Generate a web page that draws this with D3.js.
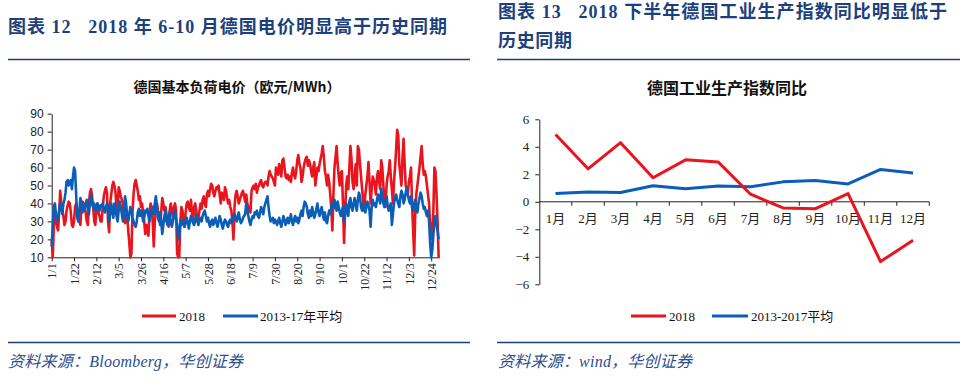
<!DOCTYPE html>
<html><head><meta charset="utf-8">
<script src="https://cdn.jsdelivr.net/npm/d3@7"></script>
<style>
body{margin:0;background:#fff;}
svg{display:block;}
</style></head>
<body>
<svg id="c" width="973" height="384"></svg>
<script>
// ---------- Left chart data (daily, 2018 vs 2013-17 average) ----------
const red2018 = [
 // Jan
 20,10,28,33,30,27,25,35,47,40,37,33,28,30,36,39,41,40,35,28,27,30,38,40,36,34,30,28,38,41,40,
 // Feb
 38,35,30,28,40,46,48,44,38,30,28,36,40,35,33,30,30,38,44,47,49,46,30,24,40,45,50,52,
 // Mar
 50,46,38,36,49,47,44,42,40,32,29,36,33,25,18,10,12,35,45,51,53,50,47,42,44,38,40,35,30,23,28,
 // Apr
 25,22,35,40,38,30,16,30,38,40,36,33,28,35,43,40,36,38,34,30,27,36,40,35,33,38,40,36,12,10,
 // May
 10,30,38,36,30,27,35,40,41,38,36,42,34,30,38,40,36,30,32,36,40,37,42,44,40,38,45,47,44,48,51,
 // Jun
 50,46,44,47,49,48,50,45,40,46,44,42,49,47,43,40,42,38,36,30,20,38,45,47,44,40,42,44,46,47,
 // Jul
 44,41,45,40,38,36,35,47,49,50,48,51,46,49,50,52,53,50,49,51,52,52,50,55,58,56,55,54,52,50,60,
 // Aug
 58,56,62,59,55,64,65,60,55,54,56,53,55,52,57,60,56,54,58,64,67,62,60,52,55,60,63,65,66,61,64,
 // Sep
 62,58,55,60,63,50,55,60,58,62,65,68,72,66,58,55,50,56,52,45,38,25,45,60,66,72,62,55,50,57,
 // Oct
 58,40,18,35,50,55,48,60,72,65,52,48,55,62,50,72,70,62,55,48,42,36,45,50,55,63,52,40,48,55,53,
 // Nov
 50,45,55,58,52,48,64,60,50,42,38,50,55,58,64,55,48,40,52,60,70,81,78,62,56,50,65,76,62,50,
 // Dec
 48,45,52,55,60,40,25,11,35,45,50,55,60,66,72,62,56,58,55,50,45,40,28,20,25,35,60,58,45,30,10
];
const avg1317 = [
 // Jan
 16,28,38,40,34,30,32,36,40,38,34,40,42,46,52,53,50,52,53,48,55,60,58,45,32,30,36,43,40,35,38,
 // Feb
 36,40,42,38,34,40,45,40,38,40,36,38,40,38,36,39,38,40,37,35,38,40,36,30,34,40,36,32,
 // Mar
 40,38,33,30,36,41,38,34,30,36,44,40,33,30,34,38,36,32,30,28,27,30,35,37,33,36,34,30,32,36,35,
 // Apr
 37,33,30,34,36,38,34,40,44,38,32,30,35,30,23,28,33,36,30,28,32,35,30,27,30,34,36,31,28,20,
 // May
 22,30,28,31,29,27,30,32,29,26,30,33,31,29,28,31,34,30,28,31,32,30,33,35,36,33,30,32,29,27,30,
 // Jun
 31,28,30,32,29,27,30,33,31,28,26,29,31,30,28,27,30,31,29,31,33,34,32,30,33,35,31,29,30,32,
 // Jul
 33,34,40,37,33,30,28,31,33,32,35,34,36,33,32,35,38,36,34,38,40,42,44,38,33,30,31,32,29,31,30,
 // Aug
 28,30,32,29,27,30,33,31,28,30,32,29,31,34,30,28,31,33,30,32,29,31,34,36,33,38,41,40,38,34,32,
 // Sep
 36,33,38,35,32,34,37,40,35,33,36,38,34,31,35,30,29,33,36,34,38,40,37,42,39,36,41,38,35,33,
 // Oct
 36,38,30,34,40,37,33,41,43,38,36,40,43,39,36,42,46,44,38,36,40,37,35,38,41,39,36,27,38,42,39,
 // Nov
 40,38,42,45,43,40,48,44,40,38,41,44,39,36,38,40,28,34,40,43,45,42,40,38,44,47,45,40,42,46,
 // Dec
 49,45,42,40,44,38,36,40,42,38,35,40,43,46,44,40,37,38,35,33,36,30,18,10,14,22,30,33,28,25,20
];
const dateTicks = ["1/1","1/22","2/12","3/5","3/26","4/16","5/7","5/28","6/18","7/9","7/30","8/20","9/10","10/1","10/22","11/12","12/3","12/24"];
const priceTicks = [10,20,30,40,50,60,70,80,90];

// ---------- Right chart data (monthly YoY) ----------
const months = ["1月","2月","3月","4月","5月","6月","7月","8月","9月","10月","11月","12月"];
const ip2018 = [4.9, 2.4, 4.3, 1.75, 3.05, 2.9, 0.55, -0.45, -0.5, 0.6, -4.35, -2.8];
const ipAvg = [0.6, 0.72, 0.67, 1.17, 0.95, 1.15, 1.1, 1.45, 1.55, 1.3, 2.35, 2.1];
const ipTicks = [-6,-4,-2,0,2,4,6];

const RED = "#E8141E", BLUE = "#0A5EB8", NAVY = "#1C3F7E";
const CJK = "'Liberation Serif','Noto Sans CJK SC',serif";
const svg = d3.select("#c");

// ---------- Headers ----------
function hdr(x, y, t, len){
  const e = svg.append("text").attr("x",x).attr("y",y).text(t)
    .attr("font-family",CJK).attr("font-weight","bold").attr("font-size",18).attr("fill",NAVY);
  if (len) e.attr("textLength",len).attr("lengthAdjust","spacing");
}
hdr(8, 33, "图表 12\u00a0\u00a0\u00a02018 年 6-10 月德国电价明显高于历史同期", 439);
hdr(498, 18, "图表 13\u00a0\u00a0\u00a02018 下半年德国工业生产指数同比明显低于", 449);
hdr(498, 47, "历史同期", 74);
[[8,470],[497,960]].forEach(([a,b])=>{
  svg.append("line").attr("x1",a).attr("x2",b).attr("y1",59.5).attr("y2",59.5).attr("stroke",NAVY).attr("stroke-width",1.5);
  svg.append("line").attr("x1",a).attr("x2",b).attr("y1",342.5).attr("y2",342.5).attr("stroke",NAVY).attr("stroke-width",1.5);
});
function src(x,t,len){
  svg.append("text").attr("x",x).attr("y",367).text(t)
    .attr("font-family","'Liberation Serif','Noto Sans CJK SC',serif").attr("font-style","italic")
    .attr("font-size",16).attr("fill","#2A4E8E").attr("textLength",len).attr("lengthAdjust","spacing");
}
src(8, "资料来源：Bloomberg，华创证券", 235);
src(498, "资料来源：wind，华创证券", 194);

// ---------- Left chart ----------
const L = svg.append("g");
L.append("text").attr("x",237).attr("y",92).attr("text-anchor","middle").text("德国基本负荷电价（欧元/MWh）")
  .attr("font-family","'Noto Sans CJK SC',sans-serif").attr("font-weight","bold").attr("font-size",14).attr("fill","#111");
const lx = d3.scaleLinear().domain([0,365]).range([51.7,439.7]);
const ly = d3.scaleLinear().domain([10,90]).range([257.3,113.7]);
const lyAxis = L.append("g").attr("transform","translate(51.7,0)")
  .call(d3.axisLeft(ly).tickValues(priceTicks).tickSize(4).tickSizeOuter(0));
lyAxis.selectAll("text").attr("font-family","'Liberation Sans',sans-serif").attr("font-size",12).attr("fill","#222").attr("dx","-1");
const dayIdx = dateTicks.map((_,i)=>i*21);
const lxAxis = L.append("g").attr("transform","translate(0,257.3)")
  .call(d3.axisBottom(lx).tickValues(dayIdx).tickFormat((d,i)=>dateTicks[i]).tickSize(4).tickSizeOuter(0));
lxAxis.selectAll("text").attr("transform","rotate(-90)").attr("text-anchor","end")
  .attr("x",-6).attr("y",0).attr("dy","0.35em")
  .attr("font-family","'Liberation Serif',serif").attr("font-size",12).attr("fill","#222");
[lyAxis,lxAxis].forEach(a=>{a.selectAll("path,line").attr("stroke","#222");});
const lline = d3.line().x((d,i)=>lx(i)).y(d=>ly(d)).curve(d3.curveLinear);
L.append("path").datum(red2018).attr("d",lline).attr("fill","none").attr("stroke",RED).attr("stroke-width",2.6).attr("stroke-linejoin","round");
L.append("path").datum(avg1317).attr("d",lline).attr("fill","none").attr("stroke",BLUE).attr("stroke-width",2.6).attr("stroke-linejoin","round");
function legend(g, x1, x2, tx, color, t){
  g.append("line").attr("x1",x1).attr("x2",x2).attr("y1",316).attr("y2",316).attr("stroke",color).attr("stroke-width",3);
  g.append("text").attr("x",tx).attr("y",320.5).text(t).attr("font-family",CJK).attr("font-size",13).attr("fill","#111");
}
legend(L,142,176,179,RED,"2018");
legend(L,223,258,260,BLUE,"2013-17年平均");

// ---------- Right chart ----------
const R = svg.append("g");
R.append("text").attr("x",727).attr("y",94).attr("text-anchor","middle").text("德国工业生产指数同比")
  .attr("font-family","'Noto Sans CJK SC',sans-serif").attr("font-weight","bold").attr("font-size",16).attr("fill","#111");
const rx = d3.scaleBand().domain(months).range([539.3,929.3]);
const ry = d3.scaleLinear().domain([-6,6]).range([284.3,119.3]);
const ryAxis = R.append("g").attr("transform","translate(539.3,0)")
  .call(d3.axisLeft(ry).tickValues(ipTicks).tickSize(4).tickSizeOuter(0));
ryAxis.selectAll("text").attr("font-family","'Liberation Serif',serif").attr("font-size",13).attr("fill","#222").attr("dx","-3");
const bounds = months.map(m=>rx(m)+rx.bandwidth());
const rxAxis = R.append("g").attr("transform",`translate(0,${ry(0)})`);
rxAxis.append("line").attr("x1",539.3).attr("x2",929.3).attr("stroke","#222");
rxAxis.selectAll("line.t").data(bounds).enter().append("line").attr("class","t")
  .attr("x1",d=>d).attr("x2",d=>d).attr("y1",0).attr("y2",4).attr("stroke","#222");
rxAxis.selectAll("text").data(months).enter().append("text")
  .attr("x",d=>rx(d)+rx.bandwidth()/2).attr("y",21).attr("text-anchor","middle").text(d=>d)
  .attr("font-family",CJK).attr("font-size",13).attr("fill","#222");
ryAxis.selectAll("path,line").attr("stroke","#222");
const rline = d3.line().x((d,i)=>rx(months[i])+rx.bandwidth()/2).y(d=>ry(d));
R.append("path").datum(ipAvg).attr("d",rline).attr("fill","none").attr("stroke",BLUE).attr("stroke-width",3).attr("stroke-linejoin","round");
R.append("path").datum(ip2018).attr("d",rline).attr("fill","none").attr("stroke",RED).attr("stroke-width",3).attr("stroke-linejoin","round");
legend(R,631,666,669,RED,"2018");
legend(R,712,748,751,BLUE,"2013-2017平均");
</script>
</body></html>
